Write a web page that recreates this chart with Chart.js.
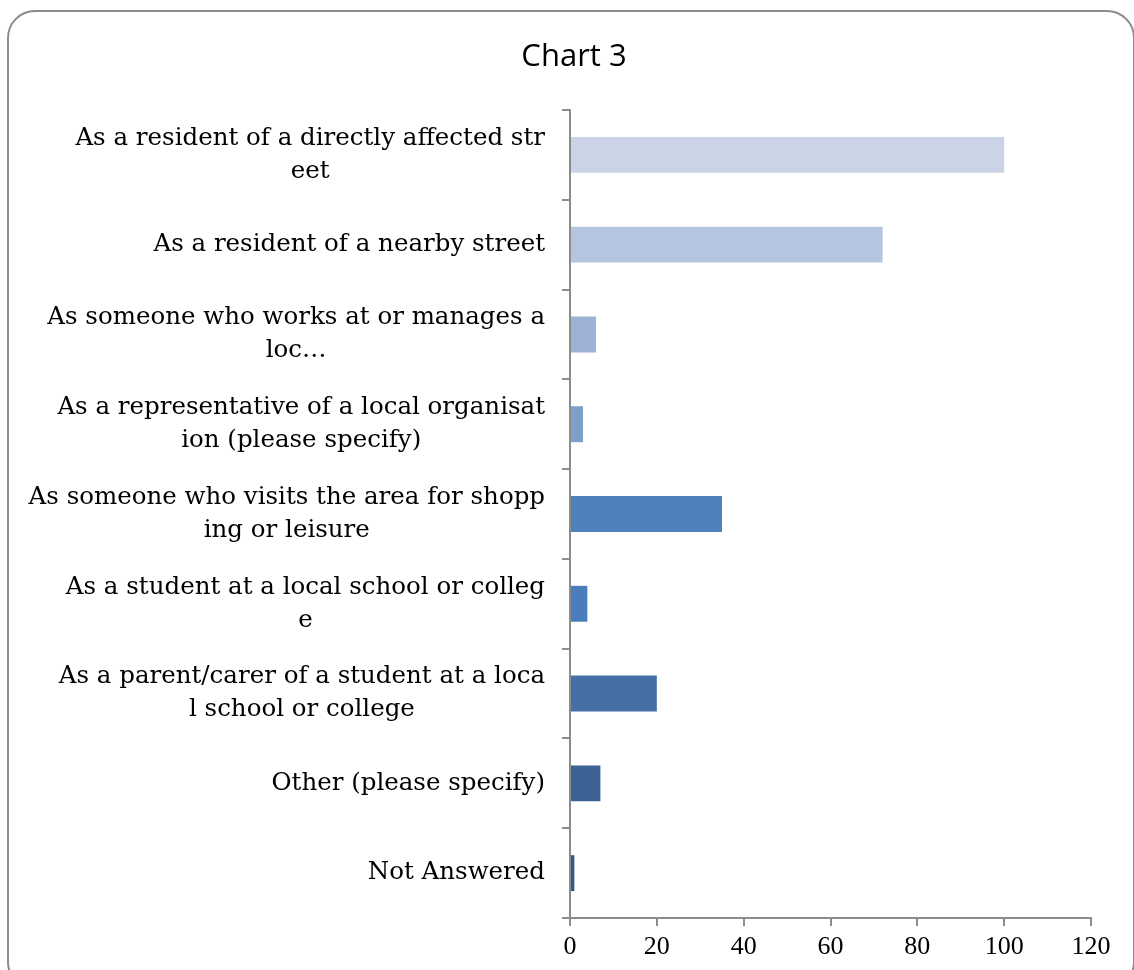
<!DOCTYPE html>
<html>
<head>
<meta charset="utf-8">
<script src="https://cdn.jsdelivr.net/npm/chart.js@4/dist/chart.umd.min.js"></script>
<style>
    body { margin: 0; background: #fff; }
    #wrap { position: relative; width: 1134px; height: 970px; overflow: hidden; }
    #frame {
        position: absolute; left: 7px; top: 10px; width: 1128px; height: 980px;
        border: 2px solid #8c8c8c; border-radius: 28px; box-sizing: border-box;
    }
    canvas { position: absolute; left: 0; top: 0; }
</style>
</head>
<body>
<div id="wrap">
    <div id="frame"></div>
    <canvas id="chart3" width="1134" height="970"></canvas>
</div>
<script>
// Categories (wrapped as in the original)
const categories = [
    ['As a resident of a directly affected str', 'eet'],
    ['As a resident of a nearby street'],
    ['As someone who works at or manages a', 'loc…'],
    ['As a representative of a local organisat', 'ion (please specify)'],
    ['As someone who visits the area for shopp', 'ing or leisure'],
    ['As a student at a local school or colleg', 'e'],
    ['As a parent/carer of a student at a loca', 'l school or college'],
    ['Other (please specify)'],
    ['Not Answered']
];
const counts = [100, 72, 6, 3, 35, 4, 20, 7, 1];
const barColors = ['#cad4e6', '#b5c4df', '#9db2d4', '#7f9fcb', '#4f81bd', '#4a7ebb', '#4470a6', '#3c6394', '#37598a'];
const xTicks = [0, 20, 40, 60, 80, 100, 120];
const chartTitle = 'Chart 3';

const labelFont = '24.5px "DejaVu Serif", serif';

// Title + category labels: right edge fixed, each line centred on the widest one
const textLayer = {
    id: 'textLayer',
    afterDraw(chart) {
        const ctx = chart.ctx;
        const yScale = chart.scales.y;
        const rightEdge = yScale.right - 25;
        const lineH = 33;
        ctx.save();
        ctx.fillStyle = '#000';
        ctx.textAlign = 'center';
        ctx.textBaseline = 'middle';
        ctx.font = '31px "Open Sans", sans-serif';
        ctx.fillText(chartTitle, 574, 57);
        ctx.font = labelFont;
        categories.forEach((lines, i) => {
            const widest = Math.max(...lines.map(l => ctx.measureText(l).width));
            const cx = rightEdge - widest / 2;
            const cy = yScale.getPixelForValue(i);
            const top = cy - (lines.length - 1) * lineH / 2;
            lines.forEach((l, j) => ctx.fillText(l, cx, top + j * lineH));
        });
        ctx.restore();
    }
};

new Chart(document.getElementById('chart3'), {
    type: 'bar',
    data: {
        labels: categories.map(c => c.join('')),
        datasets: [{
            data: counts,
            backgroundColor: barColors,
            barPercentage: 0.4,
            categoryPercentage: 1
        }]
    },
    options: {
        indexAxis: 'y',
        responsive: false,
        animation: false,
        layout: { padding: { left: 0, right: 43, top: 110, bottom: 0 } },
        plugins: {
            legend: { display: false },
            tooltip: { enabled: false },
            title: { display: false }
        },
        scales: {
            x: {
                min: 0,
                max: 120,
                afterBuildTicks: scale => { scale.ticks = xTicks.map(v => ({ value: v })); },
                grid: { drawOnChartArea: false, tickLength: 8, color: '#8c8c8c', lineWidth: 2 },
                border: { color: '#8c8c8c', width: 2 },
                ticks: {
                    color: '#000',
                    padding: 6,
                    font: { family: '"Liberation Serif", serif', size: 26 }
                },
                afterFit: scale => { scale.height = 52; }
            },
            y: {
                grid: { offset: true, drawOnChartArea: false, tickLength: 8, color: '#8c8c8c', lineWidth: 2 },
                border: { color: '#8c8c8c', width: 2 },
                ticks: { display: false },
                afterFit: scale => { scale.width = 570; }
            }
        }
    },
    plugins: [textLayer]
});
</script>
</body>
</html>
